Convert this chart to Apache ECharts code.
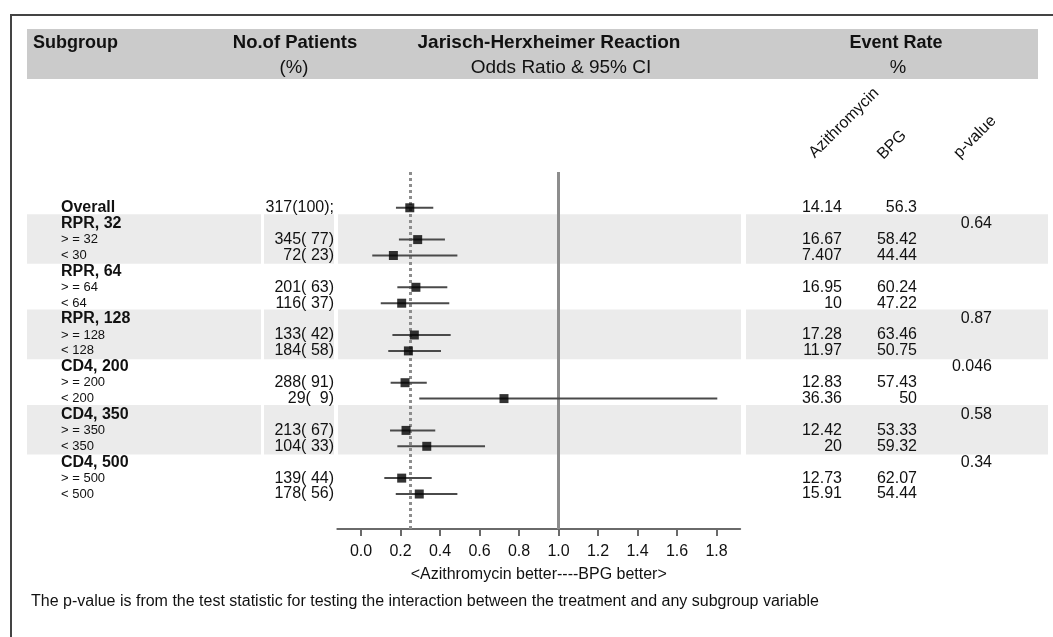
<!DOCTYPE html>
<html><head><meta charset="utf-8">
<script src="https://cdn.jsdelivr.net/npm/echarts@6/dist/echarts.min.js"></script>
<style>html,body{margin:0;padding:0;background:#fff}#c{width:1053px;height:637px}</style>
</head><body><div id="c"></div>
<script>
// ---- data ----
const rowLabels = ['Overall','RPR, 32','> = 32','< 30','RPR, 64','> = 64','< 64','RPR, 128','> = 128','< 128','CD4, 200','> = 200','< 200','CD4, 350','> = 350','< 350','CD4, 500','> = 500','< 500'];
const rowIsHeading = [true,true,false,false,true,false,false,true,false,false,true,false,false,true,false,false,true,false,false];
const patients = ['317(100);','','345( 77)','72( 23)','','201( 63)','116( 37)','','133( 42)','184( 58)','','288( 91)','29(  9)','','213( 67)','104( 33)','','139( 44)','178( 56)'];
const oddsRatio = [0.247,null,0.287,0.164,null,0.278,0.206,null,0.270,0.240,null,0.223,0.724,null,0.228,0.333,null,0.206,0.295];
const ciLow     = [0.177,null,0.192,0.057,null,0.184,0.100,null,0.159,0.138,null,0.150,0.295,null,0.147,0.184,null,0.118,0.176];
const ciHigh    = [0.366,null,0.425,0.488,null,0.437,0.447,null,0.454,0.405,null,0.333,1.804,null,0.376,0.628,null,0.358,0.488];
const aziRate = ['14.14','','16.67','7.407','','16.95','10','','17.28','11.97','','12.83','36.36','','12.42','20','','12.73','15.91'];
const bpgRate = ['56.3','','58.42','44.44','','60.24','47.22','','63.46','50.75','','57.43','50','','53.33','59.32','','62.07','54.44'];
const pValues = ['','0.64','','','','','','0.87','','','0.046','','','0.58','','','0.34','',''];
const shadedGroups = [[1,3],[7,9],[13,15]];
const xTicks = [0,0.2,0.4,0.6,0.8,1.0,1.2,1.4,1.6,1.8];
const nullLine = 1.0;
const axisTitle = '<Azithromycin better----BPG better>';
const footnote = 'The p-value is from the test statistic for testing the interaction between the treatment and any subgroup variable';

// ---- layout ----
const FONT = '"Liberation Sans", Arial, Helvetica, sans-serif';
const yMin = -2.25, yMax = 20.2;
const gridTop = 172, gridHeight = 357;
const col = {label: 61, patients: 334, azi: 842, bpg: 917, p: 992};
const bandSegs = [[27,261],[264,334],[338,741],[746,1048]];

const chart = echarts.init(document.getElementById('c'));

const ciData = [], orData = [];
oddsRatio.forEach((v,i) => {
  if (v !== null) { ciData.push([ciLow[i], ciHigh[i], i]); orData.push([v, i]); }
});

const option = {
  animation: false,
  grid: [
    {left: 337.3, width: 402.9, top: gridTop, height: gridHeight},
    {left: 0, width: 1053, top: gridTop, height: gridHeight}
  ],
  xAxis: [
    {type: 'value', gridIndex: 0, min: -0.12, max: 1.92, position: 'bottom',
     axisLine: {show: true, onZero: false, lineStyle: {color: '#6a6a6a', width: 2}},
     axisTick: {show: true, customValues: xTicks, length: 7, lineStyle: {color: '#6a6a6a', width: 2}},
     axisLabel: {customValues: xTicks, formatter: v => v.toFixed(1), color: '#111', fontSize: 16, fontFamily: FONT, margin: 15},
     splitLine: {show: false},
     name: axisTitle, nameLocation: 'middle', nameGap: 38,
     nameTextStyle: {color: '#111', fontSize: 16, fontFamily: FONT}},
    {type: 'value', gridIndex: 1, min: 0, max: 1053, show: false}
  ],
  yAxis: [
    {type: 'value', gridIndex: 0, min: yMin, max: yMax, inverse: true, show: false},
    {type: 'value', gridIndex: 1, min: yMin, max: yMax, inverse: true, show: false}
  ],
  graphic: [
    {type: 'rect', shape: {x: 11, y: 15, width: 1100, height: 700}, style: {fill: 'none', stroke: '#444', lineWidth: 2}, z: 0},
    {type: 'rect', shape: {x: 27, y: 29, width: 1011, height: 50}, style: {fill: '#cbcbcb'}, z: 0},
    {type: 'text', x: 33, y: 43, style: {text: 'Subgroup', font: 'bold 18px ' + FONT, fill: '#111', textAlign: 'left', textVerticalAlign: 'middle'}},
    {type: 'text', x: 295, y: 43, style: {text: 'No.of Patients', font: 'bold 18.5px ' + FONT, fill: '#111', textAlign: 'center', textVerticalAlign: 'middle'}},
    {type: 'text', x: 294, y: 68, style: {text: '(%)', font: '18.5px ' + FONT, fill: '#111', textAlign: 'center', textVerticalAlign: 'middle'}},
    {type: 'text', x: 549, y: 43, style: {text: 'Jarisch-Herxheimer Reaction', font: 'bold 19px ' + FONT, fill: '#111', textAlign: 'center', textVerticalAlign: 'middle'}},
    {type: 'text', x: 561, y: 68, style: {text: 'Odds Ratio & 95% CI', font: '19px ' + FONT, fill: '#111', textAlign: 'center', textVerticalAlign: 'middle'}},
    {type: 'text', x: 896, y: 43, style: {text: 'Event Rate', font: 'bold 18px ' + FONT, fill: '#111', textAlign: 'center', textVerticalAlign: 'middle'}},
    {type: 'text', x: 898, y: 68, style: {text: '%', font: '18.5px ' + FONT, fill: '#111', textAlign: 'center', textVerticalAlign: 'middle'}},
    {type: 'text', x: 844, y: 123, rotation: Math.PI/4, style: {text: 'Azithromycin', font: '16px ' + FONT, fill: '#111', textAlign: 'center', textVerticalAlign: 'middle'}},
    {type: 'text', x: 892, y: 145, rotation: Math.PI/4, style: {text: 'BPG', font: '16px ' + FONT, fill: '#111', textAlign: 'center', textVerticalAlign: 'middle'}},
    {type: 'text', x: 975, y: 137, rotation: Math.PI/4, style: {text: 'p-value', font: '16px ' + FONT, fill: '#111', textAlign: 'center', textVerticalAlign: 'middle'}},
    {type: 'text', x: 31, y: 602, style: {text: footnote, font: '16px ' + FONT, fill: '#111', textAlign: 'left', textVerticalAlign: 'middle'}}
  ],
  series: [
    // shaded bands
    {type: 'custom', xAxisIndex: 1, yAxisIndex: 1, z: 1, silent: true, clip: false,
     data: shadedGroups.map(g => [0, g[0], g[1]]),
     encode: {x: 0, y: 1},
     renderItem: (params, api) => {
       const y0 = api.coord([0, api.value(1) - 0.6])[1];
       const y1 = api.coord([0, api.value(2) + 0.52])[1];
       return {type: 'group', children: bandSegs.map(s => {
         const x0 = api.coord([s[0], 0])[0], x1 = api.coord([s[1], 0])[0];
         return {type: 'rect', shape: {x: x0, y: y0, width: x1 - x0, height: y1 - y0}, style: {fill: '#ebebeb'}};
       })};
     }},
    // table text
    {type: 'custom', xAxisIndex: 1, yAxisIndex: 1, z: 3, silent: true, clip: false,
     data: rowLabels.map((_, i) => [0, i]),
     encode: {x: 0, y: 1},
     renderItem: (params, api) => {
       const i = params.dataIndex;
       const y = api.coord([0, i])[1];
       const X = v => api.coord([v, i])[0];
       const t = (x, text, font, align) => ({type: 'text', x: x, y: y,
         style: {text: text, font: font, fill: '#111', textAlign: align, textVerticalAlign: 'middle'}});
       const kids = [];
       kids.push(t(X(col.label), rowLabels[i], rowIsHeading[i] ? 'bold 16px ' + FONT : '13px ' + FONT, 'left'));
       if (patients[i]) kids.push(t(X(col.patients), patients[i], '16px ' + FONT, 'right'));
       if (aziRate[i]) kids.push(t(X(col.azi), aziRate[i], '16px ' + FONT, 'right'));
       if (bpgRate[i]) kids.push(t(X(col.bpg), bpgRate[i], '16px ' + FONT, 'right'));
       if (pValues[i]) kids.push(t(X(col.p), pValues[i], '16px ' + FONT, 'right'));
       return {type: 'group', children: kids};
     }},
    // confidence intervals
    {type: 'custom', xAxisIndex: 0, yAxisIndex: 0, z: 5, silent: true, clip: false,
     data: ciData, encode: {x: [0, 1], y: 2},
     renderItem: (params, api) => {
       const a = api.coord([api.value(0), api.value(2)]);
       const b = api.coord([api.value(1), api.value(2)]);
       return {type: 'line', shape: {x1: a[0], y1: a[1], x2: b[0], y2: b[1]}, style: {stroke: '#4a4a4a', lineWidth: 2}};
     }},
    // odds ratio squares + reference lines
    {type: 'scatter', xAxisIndex: 0, yAxisIndex: 0, z: 6, silent: true,
     data: orData, symbol: 'rect', symbolSize: 9, itemStyle: {color: '#000'},
     markLine: {silent: true, symbol: 'none', label: {show: false}, z: 4,
       data: [
         {xAxis: nullLine, lineStyle: {color: '#8d8d8d', width: 3, type: 'solid'}},
         {xAxis: oddsRatio[0], lineStyle: {color: '#8d8d8d', width: 3, type: [3, 3]}}
       ]}}
  ]
};
chart.setOption(option);
</script>
</body></html>
